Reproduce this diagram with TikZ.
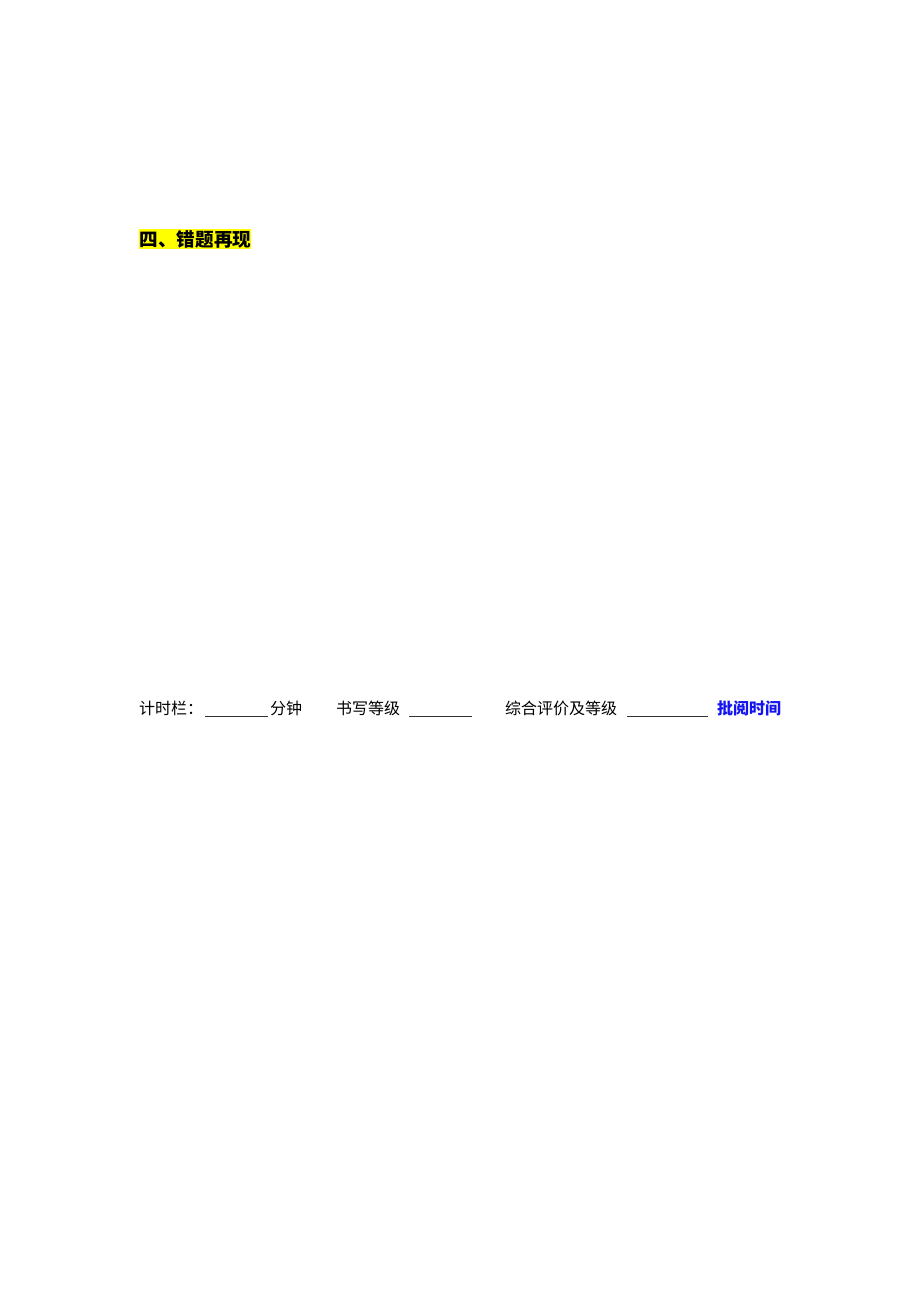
\documentclass[tikz,border=0pt]{standalone}
\usepackage{fontspec}
\newfontfamily\cjk{Noto Sans CJK SC}
\definecolor{hl}{RGB}{255,255,0}
\definecolor{bluetxt}{RGB}{20,20,240}
\begin{document}
\begin{tikzpicture}[x=1pt,y=1pt,
  txt/.style={anchor=west,inner sep=0pt,font=\cjk\fontsize{16}{16}\selectfont},
  blank/.style={line width=0.9pt,draw=black!80}]
\useasboundingbox (0,0) rectangle (920,1302);
\fill[white] (0,0) rectangle (920,1302);
% heading
\fill[hl] (139,1053) rectangle (251,1073);
\node[anchor=west,inner sep=0pt,font=\cjk\bfseries\fontsize{18.6}{18.6}\selectfont] (head) at (139.5,1063) {四、错题再现};
% bottom line
\node[txt] (t1) at (139,594) {计时栏：};
\coordinate (u1a) at (205,586); \coordinate (u1b) at (268,586);
\draw[blank] (u1a) -- (u1b);
\node[txt] (t2) at (270,594) {分钟};
\node[txt] (t3) at (336,594) {书写等级};
\coordinate (u2a) at (409,586); \coordinate (u2b) at (472,586);
\draw[blank] (u2a) -- (u2b);
\node[txt] (t4) at (505,594) {综合评价及等级};
\coordinate (u3a) at (627,586); \coordinate (u3b) at (708,586);
\draw[blank] (u3a) -- (u3b);
\node[txt,text=bluetxt,font=\cjk\bfseries\fontsize{16}{16}\selectfont] (t5) at (717,594) {批阅时间};
\end{tikzpicture}
\end{document}
